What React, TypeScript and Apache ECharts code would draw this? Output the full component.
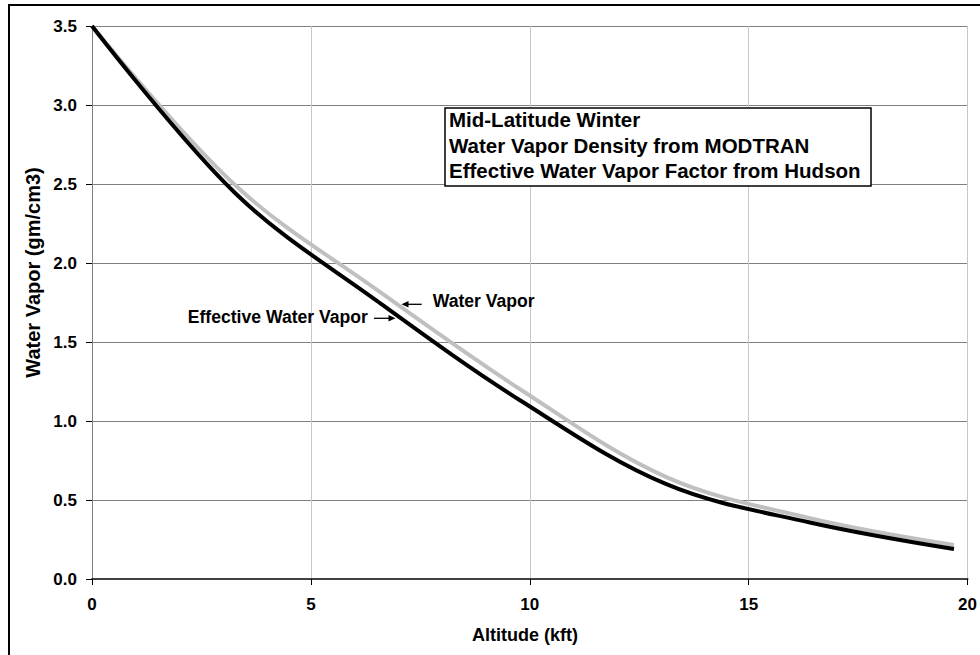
import React, { useEffect, useRef } from "react";
import * as echarts from "echarts";

// Altitude in kft (data points at 1 km steps)
const altitudeKft = [0, 3.28, 6.56, 9.84, 13.12, 16.4, 19.69];
// Water vapor density (MODTRAN, Mid-Latitude Winter) - gray curve
const waterVapor = [3.5, 2.49, 1.82, 1.19, 0.645, 0.385, 0.215];
// Effective water vapor - black curve
const effectiveWaterVapor = [3.5, 2.44, 1.75, 1.12, 0.6, 0.358, 0.19];

const xTicks = { min: 0, max: 20, interval: 5 };
const yTicks = { min: 0, max: 3.5, interval: 0.5 };

const boxLines = [
  "Mid-Latitude Winter",
  "Water Vapor Density from MODTRAN",
  "Effective Water Vapor Factor from Hudson",
];

const FONT = "'Liberation Sans', Arial, Helvetica, sans-serif";

export default function App() {
  const ref = useRef<HTMLDivElement>(null);

  useEffect(() => {
    document.body.style.margin = "0";
    if (!ref.current) return;
    const chart = echarts.init(ref.current, null, { renderer: "svg" });

    const wvData = altitudeKft.map((x, i) => [x, waterVapor[i]]);
    const effData = altitudeKft.map((x, i) => [x, effectiveWaterVapor[i]]);

    const labelStyle = {
      fontFamily: FONT,
      fontWeight: "bold" as const,
      fontSize: 17,
      color: "#000",
    };

    const option: any = {
      animation: false,
      backgroundColor: "#fff",
      grid: { left: 92, right: 7, top: 26, bottom: 76, containLabel: false },
      xAxis: {
        type: "value",
        min: xTicks.min,
        max: xTicks.max,
        interval: xTicks.interval,
        axisLine: { show: true, onZero: false, lineStyle: { color: "#404040", width: 2 } },
        axisTick: { show: true, length: 6, lineStyle: { color: "#000", width: 1 } },
        axisLabel: { ...labelStyle, margin: 17, hideOverlap: false },
        splitLine: { show: true, lineStyle: { color: "#c8c8c8", width: 1 } },
      },
      yAxis: [
        {
          type: "value",
          min: yTicks.min,
          max: yTicks.max,
          interval: yTicks.interval,
          axisLine: { show: true, onZero: false, lineStyle: { color: "#000", width: 1 } },
          axisTick: { show: true, length: 6, lineStyle: { color: "#000", width: 1 } },
          axisLabel: {
            ...labelStyle,
            margin: 15,
            formatter: (v: number) => v.toFixed(1),
          },
          splitLine: { show: true, lineStyle: { color: "#808080", width: 1 } },
        },
        {
          type: "value",
          position: "right",
          min: yTicks.min,
          max: yTicks.max,
          interval: yTicks.interval,
          axisLine: { show: true, lineStyle: { color: "#808080", width: 1 } },
          axisTick: { show: false },
          axisLabel: { show: false },
          splitLine: { show: false },
        },
      ],
      series: [
        {
          name: "Water Vapor",
          type: "line",
          data: wvData,
          smooth: 0.35,
          symbol: "none",
          lineStyle: { color: "#c0c0c0", width: 4 },
          z: 3,
        },
        {
          name: "Effective Water Vapor",
          type: "line",
          data: effData,
          smooth: 0.35,
          symbol: "none",
          lineStyle: { color: "#000", width: 4 },
          z: 4,
        },
      ],
      graphic: [
        {
          type: "rect",
          z: 100,
          silent: true,
          shape: { x: 9, y: 5, width: 1000, height: 1000 },
          style: { fill: "none", stroke: "#000", lineWidth: 2 },
        },
        {
          type: "rect",
          z: 100,
          shape: { x: 445, y: 108, width: 426, height: 78 },
          style: { fill: "#fff", stroke: "#000", lineWidth: 1.5 },
        },
        ...boxLines.map((t, i) => ({
          type: "text",
          z: 101,
          x: 449,
          y: 119.5 + i * 25.5,
          style: {
            text: t,
            font: `bold 20.5px ${FONT}`,
            fill: "#000",
            textAlign: "left",
            textVerticalAlign: "middle",
          },
        })),
        {
          type: "text",
          z: 101,
          x: 432.7,
          y: 300.7,
          style: {
            text: "Water Vapor",
            font: `bold 17.6px ${FONT}`,
            fill: "#000",
            textAlign: "left",
            textVerticalAlign: "middle",
          },
        },
        {
          type: "text",
          z: 101,
          x: 187.7,
          y: 317,
          style: {
            text: "Effective Water Vapor",
            font: `bold 17.6px ${FONT}`,
            fill: "#000",
            textAlign: "left",
            textVerticalAlign: "middle",
          },
        },
        {
          type: "line",
          z: 101,
          shape: { x1: 421.7, y1: 304.3, x2: 405, y2: 304.3 },
          style: { stroke: "#000", lineWidth: 1.3 },
        },
        {
          type: "polygon",
          z: 101,
          shape: { points: [[401.5, 304.3], [408.5, 301], [408.5, 307.6]] },
          style: { fill: "#000" },
        },
        {
          type: "line",
          z: 101,
          shape: { x1: 374, y1: 318.3, x2: 392, y2: 318.3 },
          style: { stroke: "#000", lineWidth: 1.3 },
        },
        {
          type: "polygon",
          z: 101,
          shape: { points: [[395.5, 318.3], [388.5, 315], [388.5, 321.6]] },
          style: { fill: "#000" },
        },
        {
          type: "text",
          z: 101,
          x: 525,
          y: 635.4,
          style: {
            text: "Altitude (kft)",
            font: `bold 18px ${FONT}`,
            fill: "#000",
            textAlign: "center",
            textVerticalAlign: "middle",
          },
        },
        {
          type: "text",
          z: 101,
          x: 33,
          y: 272.5,
          rotation: Math.PI / 2,
          style: {
            text: "Water Vapor (gm/cm3)",
            font: `bold 20px ${FONT}`,
            fill: "#000",
            textAlign: "center",
            textVerticalAlign: "middle",
          },
        },
      ],
    };

    chart.setOption(option);
    return () => {
      chart.dispose();
    };
  }, []);

  return <div ref={ref} style={{ width: 980, height: 655 }} />;
}
